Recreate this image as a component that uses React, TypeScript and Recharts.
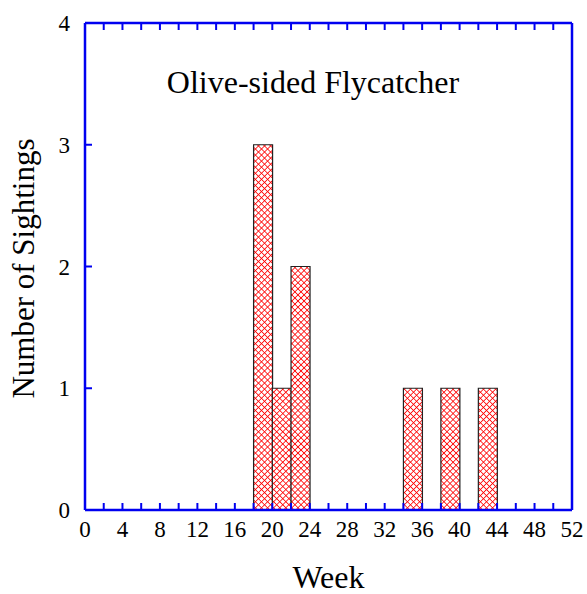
import { BarChart, Bar, XAxis, YAxis } from "recharts";

// two-week bins, labelled by the week they start on
const binStart = [0, 2, 4, 6, 8, 10, 12, 14, 16, 18, 20, 22, 24, 26, 28, 30, 32, 34, 36, 38, 40, 42, 44, 46, 48, 50];
const sightings = [0, 0, 0, 0, 0, 0, 0, 0, 0, 3, 1, 2, 0, 0, 0, 0, 0, 1, 0, 1, 0, 1, 0, 0, 0, 0];

const weekTicks = [0, 2, 4, 6, 8, 10, 12, 14, 16, 18, 20, 22, 24, 26, 28, 30, 32, 34, 36, 38, 40, 42, 44, 46, 48, 50, 52];
const weekLabels = [0, 4, 8, 12, 16, 20, 24, 28, 32, 36, 40, 44, 48, 52];
const countTicks = [0, 1, 2, 3, 4];

const data = binStart.map((start, i) => ({ start, count: sightings[i] }));

const serif = '"Liberation Serif", "Times New Roman", serif';
const blue = "#0000f0";
const frame = { stroke: blue, strokeWidth: 2.5 };
const tickMark = { stroke: blue, strokeWidth: 2 };
const tickText = { fill: "#000", fontSize: 23, fontFamily: serif };

const WeekTitle = ({ viewBox }: any) => (
  <text
    x={viewBox.x + viewBox.width / 2}
    y={viewBox.y + 78}
    textAnchor="middle"
    fontSize={32}
    fontFamily={serif}
    fill="#000"
  >
    Week
  </text>
);

const CountTitle = ({ viewBox }: any) => {
  const x = viewBox.x + 34;
  const y = viewBox.y + viewBox.height / 2 + 2;
  return (
    <text
      x={x}
      y={y}
      transform={`rotate(-90, ${x}, ${y})`}
      textAnchor="middle"
      fontSize={31}
      fontFamily={serif}
      fill="#000"
    >
      Number of Sightings
    </text>
  );
};

export default function App() {
  return (
    <div style={{ position: "absolute", left: 0, top: 0, width: 587, height: 594 }}>
      <BarChart
        width={587}
        height={594}
        data={data}
        margin={{ top: 22, right: 14, left: 0, bottom: 0 }}
        barCategoryGap={0}
        barGap={0}
      >
        <defs>
          <pattern
            id="xhatch"
            width={4.3}
            height={4.3}
            patternUnits="userSpaceOnUse"
            patternTransform="rotate(45)"
          >
            <rect width={4.3} height={4.3} fill="#fff" />
            <path d="M0 2.15 H4.3 M2.15 0 V4.3" stroke="#f00" strokeWidth={0.8} />
          </pattern>
        </defs>
        <XAxis
          xAxisId="week"
          dataKey="start"
          type="number"
          domain={[0, 52]}
          ticks={weekTicks}
          interval={0}
          allowDataOverflow
          height={84}
          axisLine={frame}
          tickLine={tickMark}
          tickSize={-7}
          tickMargin={18}
          tick={tickText}
          tickFormatter={(v: number) => (weekLabels.includes(v) ? String(v) : "")}
          label={<WeekTitle />}
        />
        <XAxis xAxisId="cat" dataKey="start" type="category" hide height={0} />
        <XAxis
          xAxisId="top"
          orientation="top"
          dataKey="start"
          type="number"
          domain={[0, 52]}
          ticks={weekTicks}
          interval={0}
          allowDataOverflow
          height={1}
          axisLine={frame}
          tickLine={tickMark}
          tickSize={-7}
          tickFormatter={() => ""}
        />
        <YAxis
          yAxisId="left"
          domain={[0, 4]}
          ticks={countTicks}
          interval={0}
          width={85}
          axisLine={frame}
          tickLine={tickMark}
          tickSize={-7}
          tickMargin={22}
          tick={tickText}
          label={<CountTitle />}
        />
        <YAxis
          yAxisId="right"
          orientation="right"
          domain={[0, 4]}
          ticks={countTicks}
          interval={0}
          width={1}
          axisLine={frame}
          tickLine={tickMark}
          tickSize={-7}
          tickFormatter={() => ""}
        />
        <Bar
          xAxisId="cat"
          yAxisId="left"
          dataKey="count"
          fill="url(#xhatch)"
          stroke="#222"
          strokeWidth={1.2}
          isAnimationActive={false}
        />
      </BarChart>
      <div
        style={{
          position: "absolute",
          left: 313,
          top: 66,
          transform: "translateX(-50%)",
          whiteSpace: "nowrap",
          fontFamily: serif,
          fontSize: 32,
          lineHeight: "32px",
          color: "#000",
        }}
      >
        Olive-sided Flycatcher
      </div>
    </div>
  );
}
